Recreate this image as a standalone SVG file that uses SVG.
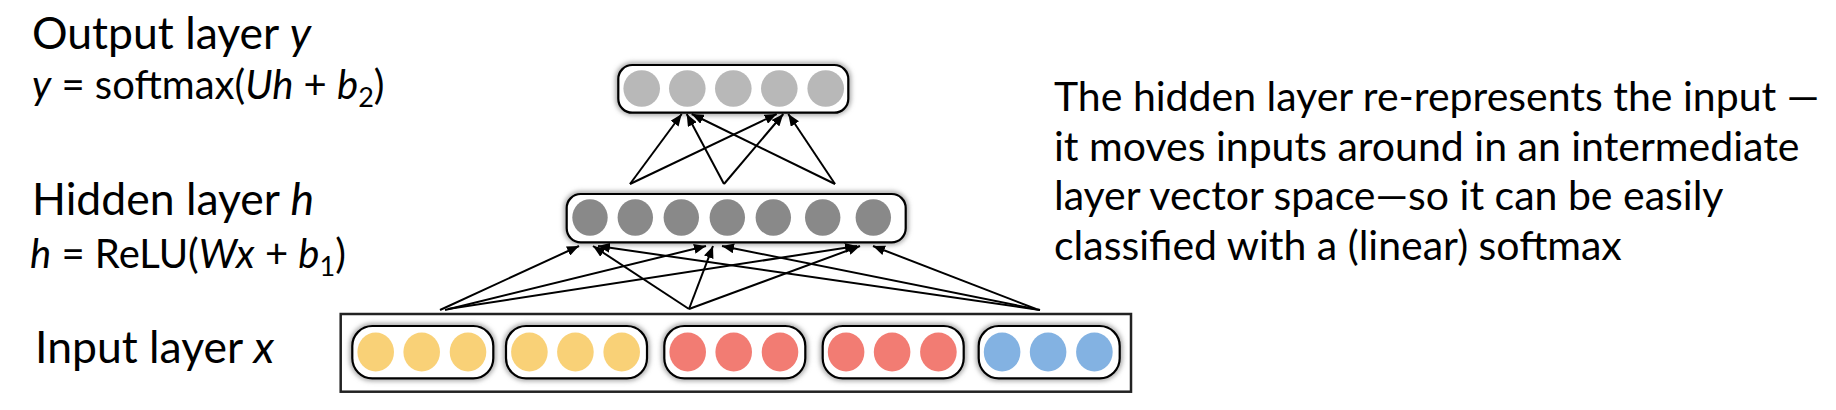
<svg xmlns="http://www.w3.org/2000/svg" width="1836" height="410" viewBox="0 0 1836 410">
<style>
  .lbl { font-family: Lato, "Liberation Sans", sans-serif; fill: #000; }
  .ttl { font-size: 44.5px; }
  .frm { font-size: 40px; }
  .nt { font-size: 41px; }
  .sub { font-size: 27px; }
  .it { font-style: italic; }
  .box { fill: #fff; stroke: #000; stroke-width: 2.2; }
  .glow { fill: none; stroke: #999; stroke-width: 5; filter: url(#blur); }
  .outer { fill: #fff; stroke: #222; stroke-width: 2.5; }
  .yel { fill: #F9D177; }
  .red { fill: #F27C73; }
  .blu { fill: #83B2E2; }
  .hid { fill: #898989; }
  .out { fill: #B8B8B8; }
  .conn line { stroke: #000; stroke-width: 2; marker-end: url(#ah); }
</style>
<defs>
  <filter id="blur" x="-20%" y="-50%" width="140%" height="200%">
    <feGaussianBlur stdDeviation="2.5"/>
  </filter>
  <marker id="ah" viewBox="0 0 12 10" refX="12" refY="5" markerWidth="6" markerHeight="5" orient="auto" markerUnits="strokeWidth">
    <path d="M0,0 L12,5 L0,10 z" fill="#000"/>
  </marker>
</defs>

<g id="label-output">
  <text class="lbl ttl" x="32" y="49">Output layer <tspan class="it">y</tspan></text>
  <text class="lbl frm" x="32" y="99"><tspan class="it">y</tspan> = softmax(<tspan class="it">Uh</tspan> + <tspan class="it">b</tspan><tspan class="sub" dy="8">2</tspan><tspan dy="-8">)</tspan></text>
</g>
<g id="label-hidden">
  <text class="lbl ttl" x="32" y="215">Hidden layer <tspan class="it">h</tspan></text>
  <text class="lbl frm" x="30" y="268"><tspan class="it">h</tspan> = ReLU(<tspan class="it">Wx</tspan> + <tspan class="it">b</tspan><tspan class="sub" dy="8">1</tspan><tspan dy="-8">)</tspan></text>
</g>
<g id="label-input">
  <text class="lbl ttl" x="35" y="363">Input layer <tspan class="it">x</tspan></text>
</g>
<g id="note">
  <text class="lbl nt" x="1054" y="111">The hidden layer re-represents the input —</text>
  <text class="lbl nt" x="1054" y="161">it moves inputs around in an intermediate</text>
  <text class="lbl nt" x="1054" y="210">layer vector space—so it can be easily</text>
  <text class="lbl nt" x="1054" y="260">classified with a (linear) softmax</text>
</g>

<g id="output-layer">
  <rect class="glow" x="618.3" y="65" width="230" height="47.7" rx="14"/>
  <rect class="box" x="618.3" y="65" width="230" height="47.7" rx="14"/>
  <circle class="out" cx="641.7" cy="88.5" r="18.3"/>
  <circle class="out" cx="687.3" cy="88.5" r="18.3"/>
  <circle class="out" cx="733.3" cy="88.5" r="18.3"/>
  <circle class="out" cx="779.3" cy="88.5" r="18.3"/>
  <circle class="out" cx="825.7" cy="88.5" r="18.3"/>
</g>

<g id="hidden-layer">
  <rect class="glow" x="566.7" y="194" width="339" height="48.3" rx="14"/>
  <rect class="box" x="566.7" y="194" width="339" height="48.3" rx="14"/>
  <ellipse class="hid" cx="590" cy="217.5" rx="17.7" ry="18.3"/>
  <ellipse class="hid" cx="635.3" cy="217.5" rx="17.7" ry="18.3"/>
  <ellipse class="hid" cx="681.3" cy="217.5" rx="17.7" ry="18.3"/>
  <ellipse class="hid" cx="727.3" cy="217.5" rx="17.7" ry="18.3"/>
  <ellipse class="hid" cx="773.3" cy="217.5" rx="17.7" ry="18.3"/>
  <ellipse class="hid" cx="822.7" cy="217.5" rx="17.7" ry="18.3"/>
  <ellipse class="hid" cx="873.3" cy="217.5" rx="17.7" ry="18.3"/>
</g>

<g id="input-layer">
  <rect class="outer" x="340.7" y="314" width="790.3" height="77.7"/>
  <g id="input-group-1">
    <rect class="glow" x="352.3" y="326" width="141" height="52.3" rx="20"/>
    <rect class="box" x="352.3" y="326" width="141" height="52.3" rx="20"/>
    <ellipse class="yel" cx="375.7" cy="352" rx="18.3" ry="19.5"/>
    <ellipse class="yel" cx="421.7" cy="352" rx="18.3" ry="19.5"/>
    <ellipse class="yel" cx="468" cy="352" rx="18.3" ry="19.5"/>
  </g>
  <g id="input-group-2">
    <rect class="glow" x="506" y="326" width="141" height="52.3" rx="20"/>
    <rect class="box" x="506" y="326" width="141" height="52.3" rx="20"/>
    <ellipse class="yel" cx="529.4" cy="352" rx="18.3" ry="19.5"/>
    <ellipse class="yel" cx="575.4" cy="352" rx="18.3" ry="19.5"/>
    <ellipse class="yel" cx="621.7" cy="352" rx="18.3" ry="19.5"/>
  </g>
  <g id="input-group-3">
    <rect class="glow" x="664.3" y="326" width="141" height="52.3" rx="20"/>
    <rect class="box" x="664.3" y="326" width="141" height="52.3" rx="20"/>
    <ellipse class="red" cx="687.7" cy="352" rx="18.3" ry="19.5"/>
    <ellipse class="red" cx="733.7" cy="352" rx="18.3" ry="19.5"/>
    <ellipse class="red" cx="780" cy="352" rx="18.3" ry="19.5"/>
  </g>
  <g id="input-group-4">
    <rect class="glow" x="822.7" y="326" width="141" height="52.3" rx="20"/>
    <rect class="box" x="822.7" y="326" width="141" height="52.3" rx="20"/>
    <ellipse class="red" cx="846.1" cy="352" rx="18.3" ry="19.5"/>
    <ellipse class="red" cx="892.1" cy="352" rx="18.3" ry="19.5"/>
    <ellipse class="red" cx="938.4" cy="352" rx="18.3" ry="19.5"/>
  </g>
  <g id="input-group-5">
    <rect class="glow" x="978.7" y="326" width="141" height="52.3" rx="20"/>
    <rect class="box" x="978.7" y="326" width="141" height="52.3" rx="20"/>
    <ellipse class="blu" cx="1002.1" cy="352" rx="18.3" ry="19.5"/>
    <ellipse class="blu" cx="1048.1" cy="352" rx="18.3" ry="19.5"/>
    <ellipse class="blu" cx="1094.4" cy="352" rx="18.3" ry="19.5"/>
  </g>
</g>

<g id="connectors" class="conn">
  <line x1="630" y1="184" x2="681.7" y2="114"/>
  <line x1="630" y1="184" x2="776.7" y2="114"/>
  <line x1="724" y1="184" x2="686.7" y2="114"/>
  <line x1="724" y1="184" x2="783.3" y2="114"/>
  <line x1="835" y1="184" x2="691.7" y2="114"/>
  <line x1="835" y1="184" x2="788.3" y2="114"/>

  <line x1="440" y1="310" x2="579" y2="246"/>
  <line x1="445" y1="310" x2="706" y2="246"/>
  <line x1="448" y1="309" x2="857" y2="246"/>
  <line x1="689" y1="309" x2="593" y2="246"/>
  <line x1="689" y1="309" x2="713" y2="246"/>
  <line x1="689" y1="309" x2="860" y2="246"/>
  <line x1="1040" y1="310" x2="598" y2="246"/>
  <line x1="1040" y1="310" x2="722" y2="246"/>
  <line x1="1036" y1="309" x2="873" y2="246"/>
</g>
</svg>
